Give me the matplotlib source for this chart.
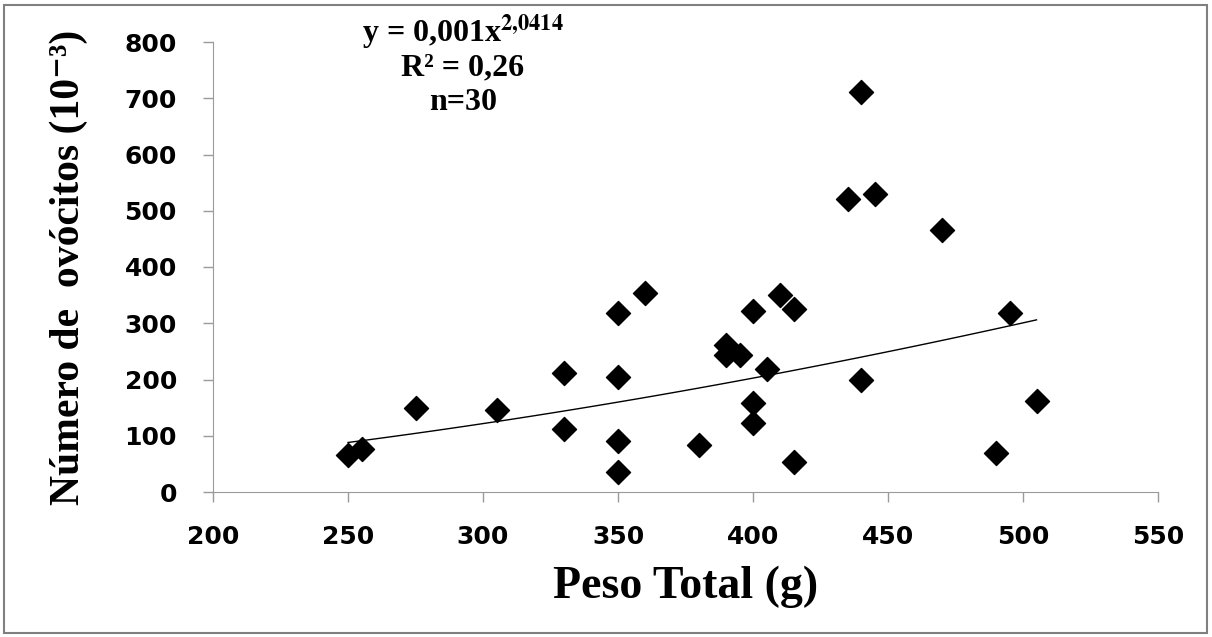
import numpy as np
import matplotlib
matplotlib.use("Agg")
from matplotlib import pyplot as plt
from matplotlib.patches import Rectangle

# data
peso = [250, 255, 275, 305, 330, 330, 350, 350, 350, 350,
        360, 380, 390, 390, 395, 400, 400, 400, 405, 410,
        415, 415, 435, 440, 440, 445, 470, 490, 495, 505]
ovocitos = [65, 76, 150, 146, 211, 112, 319, 204, 90, 35,
            354, 84, 261, 243, 243, 321, 159, 122, 219, 350,
            325, 53, 521, 711, 200, 529, 465, 70, 319, 161]

x_ticks = [200, 250, 300, 350, 400, 450, 500, 550]
y_ticks = [0, 100, 200, 300, 400, 500, 600, 700, 800]

eq_text = r"y = 0,001x$^{\mathbf{2{,}0414}}$"
r2_text = "R² = 0,26"
n_text = "n=30"

plt.rcParams['mathtext.fontset'] = 'stix'
serif = ['Liberation Serif', 'DejaVu Serif']

fig = plt.figure(figsize=(12.12, 6.37), dpi=100)
ax = fig.add_axes([213/1212, 1 - 492/637, (1158-213)/1212, (492-42)/637])

# power trend line (log-log fit, like Excel)
b, loga = np.polyfit(np.log(peso), np.log(ovocitos), 1)
xs = np.linspace(min(peso), max(peso), 100)
ax.plot(xs, np.exp(loga) * xs ** b, color='black', lw=1.0, zorder=2)

ax.scatter(peso, ovocitos, marker='D', s=150, color='black', zorder=3)

ax.set_xlim(200, 550)
ax.set_ylim(0, 800)
ax.set_xticks(x_ticks)
ax.set_yticks(y_ticks)
for lab in ax.get_xticklabels() + ax.get_yticklabels():
    lab.set_fontweight('bold')
    lab.set_fontsize(18)
    lab.set_fontfamily('DejaVu Sans')

for s in ['top', 'right']:
    ax.spines[s].set_visible(False)
for s in ['left', 'bottom']:
    ax.spines[s].set_color('#9a9a9a')
ax.tick_params(axis='both', colors='#9a9a9a', labelcolor='black', length=7, width=1)
ax.tick_params(axis='x', pad=17)
ax.tick_params(axis='y', pad=19)

ax.set_xlabel("Peso Total (g)", fontfamily=serif, fontweight='bold', fontsize=33, labelpad=12)
ax.set_ylabel("Número de  ovócitos (10⁻³)", fontfamily=serif,
              fontweight='bold', fontsize=30, labelpad=26)

fig.text(463/1212, 1 - 32/637, eq_text, ha='center', va='center',
         fontfamily=serif, fontweight='bold', fontsize=23)
fig.text(463/1212, 1 - 68/637, r2_text, ha='center', va='center',
         fontfamily=serif, fontweight='bold', fontsize=23)
fig.text(463/1212, 1 - 103/637, n_text, ha='center', va='center',
         fontfamily=serif, fontweight='bold', fontsize=23)

# chart area border
fig.patches.append(Rectangle((4/1212, 4/637), 1 - 9/1212, 1 - 9/637, transform=fig.transFigure,
                             fill=False, edgecolor='#808080', lw=1.5))

fig.savefig("out.png", dpi=100)
